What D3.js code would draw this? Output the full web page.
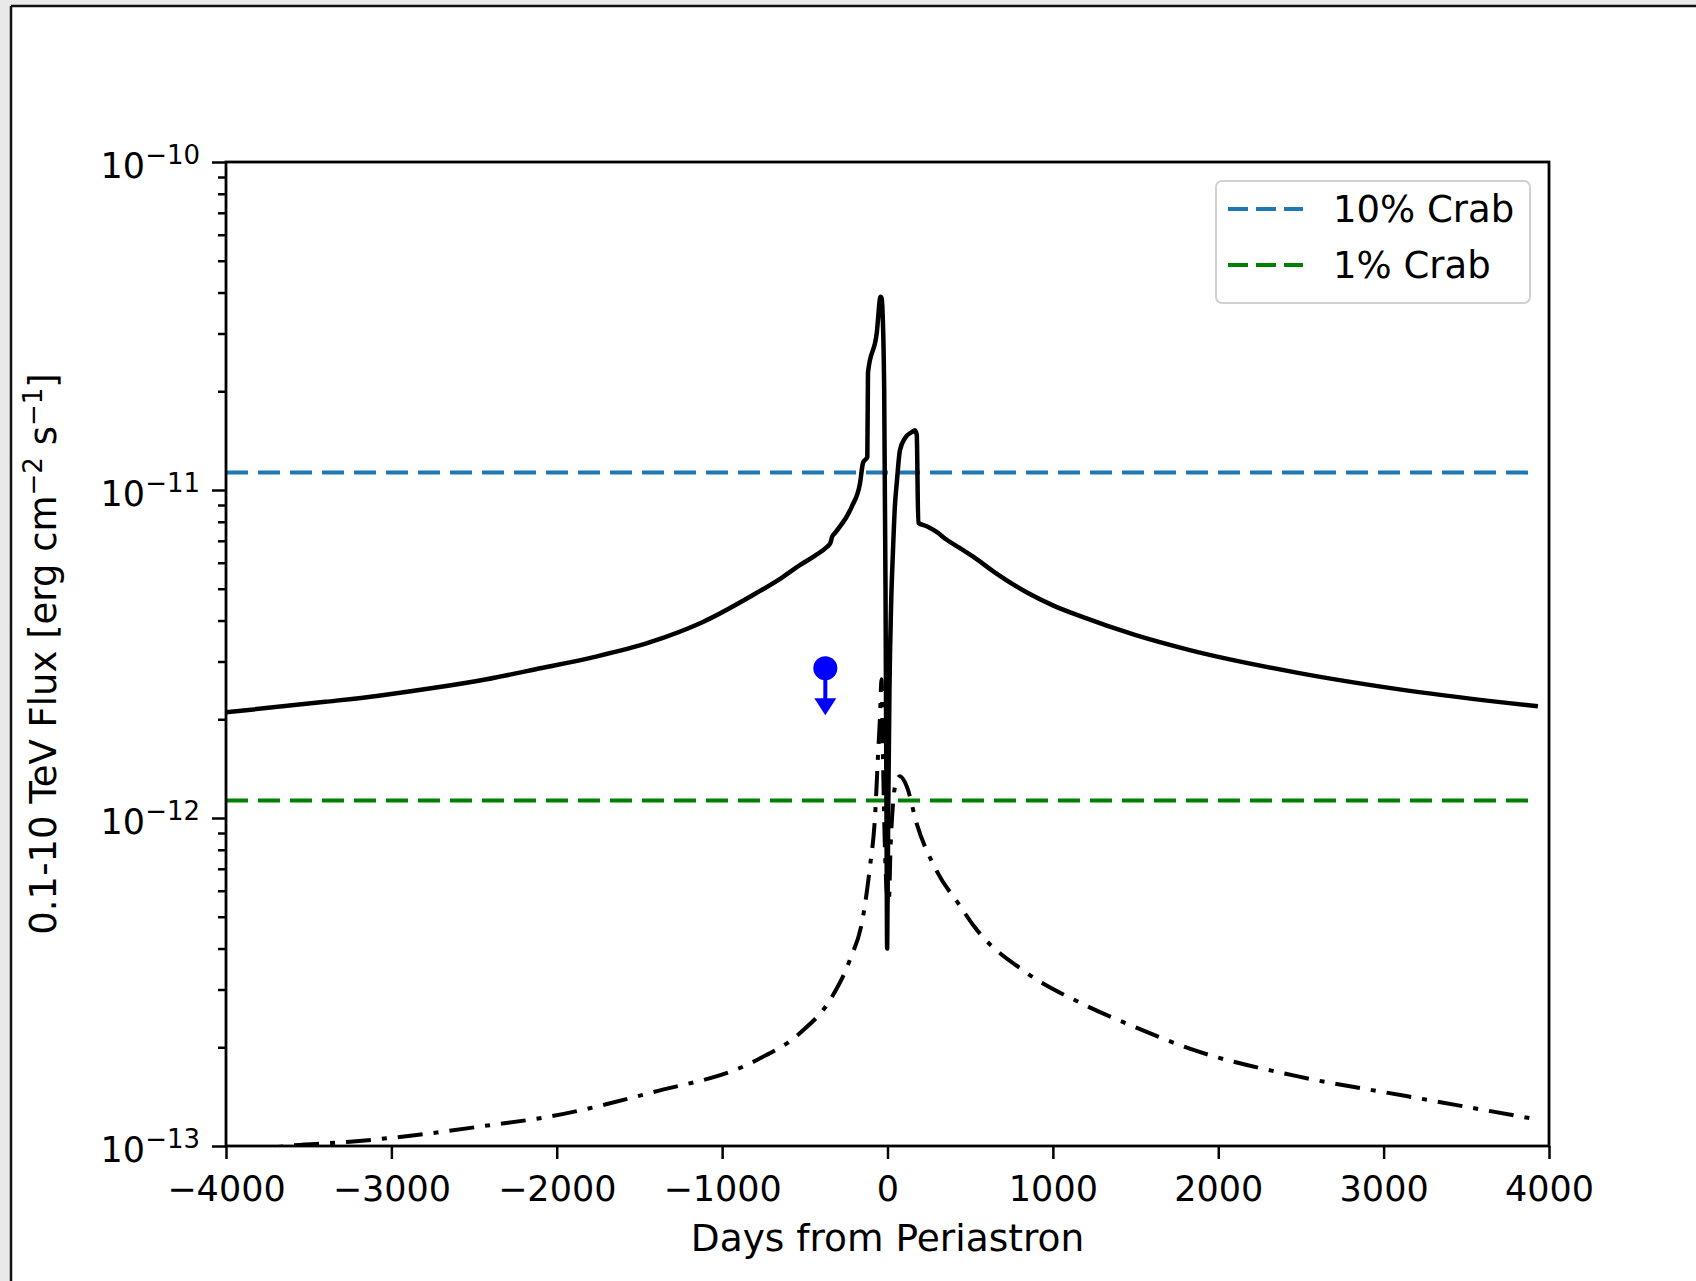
<!DOCTYPE html>
<html>
<head>
<meta charset="utf-8">
<script src="https://cdn.jsdelivr.net/npm/d3@7"></script>
<style>
  html, body { margin: 0; padding: 0; background: #fff; }
  svg { display: block; }
  text { font-family: "DejaVu Sans", sans-serif; fill: #000; }
</style>
</head>
<body>
<svg id="chart" width="1696" height="1281"></svg>
<script>
// Light curve model: 0.1-10 TeV flux vs days from periastron
const modelDays = [-4000, -3400, -3077, -2750, -2424, -2100, -1770, -1440, -1116, -790, -640, -530,
  -440, -367, -345, -335, -317, -216, -166, -148, -122, -118, -65, -42, -36, -30, -20, -12, -6, -2,
  4, 12, 22, 33, 45, 56, 75, 106, 146, 166, 177, 186, 237, 297, 358, 438, 520, 650, 846, 1000, 1174,
  1501, 1828, 2482, 3137, 3933];
const modelFlux = [2.10e-12, 2.26e-12, 2.36e-12, 2.49e-12, 2.65e-12, 2.86e-12, 3.10e-12, 3.43e-12,
  3.96e-12, 4.86e-12, 5.4e-12, 5.9e-12, 6.3e-12, 6.7e-12, 6.9e-12, 7.2e-12, 7.4e-12, 8.9e-12,
  1.05e-11, 1.21e-11, 1.26e-11, 2.28e-11, 3.01e-11, 3.88e-11, 3.85e-11, 3.5e-11, 2.0e-11, 5.0e-12,
  1.0e-12, 4.0e-13, 1.0e-12, 2.5e-12, 4.5e-12, 6.5e-12, 9.0e-12, 1.05e-11, 1.32e-11, 1.44e-11,
  1.50e-11, 1.52e-11, 1.47e-11, 7.95e-12, 7.75e-12, 7.45e-12, 7.05e-12, 6.65e-12, 6.25e-12,
  5.6e-12, 4.86e-12, 4.45e-12, 4.11e-12, 3.61e-12, 3.25e-12, 2.77e-12, 2.45e-12, 2.19e-12];

// Second (dash-dot) component
const lowDays = [-3900, -3633, -3250, -2847, -2444, -2041, -1440, -789, -529, -330, -227, -148,
  -106, -76, -56, -46, -36, -28, -18, -5, 8, 18, 33, 55, 75, 116, 177, 297, 438, 520, 846, 1174,
  1501, 1828, 2482, 3137, 3908];
const lowFlux = [9.6e-14, 1.0e-13, 1.03e-13, 1.08e-13, 1.15e-13, 1.23e-13, 1.45e-13, 1.83e-13,
  2.21e-13, 2.88e-13, 3.7e-13, 5.0e-13, 7.1e-13, 1.0e-12, 1.6e-12, 2.0e-12, 2.65e-12, 1.6e-12,
  9.0e-13, 6.0e-13, 5.5e-13, 8.0e-13, 1.1e-12, 1.3e-12, 1.34e-12, 1.25e-12, 9.6e-13, 6.9e-13,
  5.4e-13, 4.7e-13, 3.36e-13, 2.72e-13, 2.30e-13, 1.98e-13, 1.63e-13, 1.42e-13, 1.21e-13];

// Crab reference levels
const crabLabels = ["10% Crab", "1% Crab"];
const crabFlux = [1.13e-11, 1.13e-12];
const crabColors = ["#1f77b4", "#008000"];
const crabSpan = [-4000, 3910];

// Upper limit
const ulDays = [-376];
const ulFlux = [2.86e-12];

// Axis ticks
const xTicks = [-4000, -3000, -2000, -1000, 0, 1000, 2000, 3000, 4000];
const yMajor = [1e-13, 1e-12, 1e-11, 1e-10];
const yExp = ["−13", "−12", "−11", "−10"];

const svg = d3.select("#chart");
const W = 1696, H = 1281;

// Window frame
svg.append("rect").attr("width", W).attr("height", H).attr("fill", "#e9e9e9");
svg.append("rect").attr("x", 11).attr("y", 6).attr("width", W - 11).attr("height", H - 6).attr("fill", "#fff");
svg.append("line").attr("x1", 11).attr("x2", W).attr("y1", 6).attr("y2", 6).attr("stroke", "#111").attr("stroke-width", 2.5);
svg.append("line").attr("x1", 11).attr("x2", 11).attr("y1", 6).attr("y2", H).attr("stroke", "#111").attr("stroke-width", 2.5);

const L = 226, R = 1549, T = 162, B = 1146;
const x = d3.scaleLinear().domain([-4000, 4000]).range([L, R]);
const y = d3.scaleLog().domain([1e-13, 1e-10]).range([B, T]);

svg.append("defs").append("clipPath").attr("id", "plotclip")
  .append("rect").attr("x", L).attr("y", T).attr("width", R - L).attr("height", B - T);

const plot = svg.append("g").attr("clip-path", "url(#plotclip)");

// Crab levels
crabFlux.forEach((f, i) => {
  plot.append("line")
    .attr("x1", x(crabSpan[0])).attr("x2", x(crabSpan[1]))
    .attr("y1", y(f)).attr("y2", y(f))
    .attr("stroke", crabColors[i]).attr("stroke-width", 4)
    .attr("stroke-dasharray", "22,10");
});

const line = d3.line().x(d => x(d[0])).y(d => y(d[1])).curve(d3.curveMonotoneX);

plot.append("path")
  .datum(lowDays.map((d, i) => [d, lowFlux[i]]))
  .attr("d", line).attr("fill", "none").attr("stroke", "#000")
  .attr("stroke-width", 4).attr("stroke-dasharray", "25,11,5,11");

plot.append("path")
  .datum(modelDays.map((d, i) => [d, modelFlux[i]]))
  .attr("d", line).attr("fill", "none").attr("stroke", "#000")
  .attr("stroke-width", 4.5).attr("stroke-linejoin", "round");

// Upper limit marker with downward arrow
ulDays.forEach((d, i) => {
  const cx = x(d), cy = y(ulFlux[i]);
  const g = svg.append("g").attr("fill", "#0000ff").attr("stroke", "#0000ff");
  g.append("line").attr("x1", cx).attr("x2", cx).attr("y1", cy).attr("y2", cy + 34).attr("stroke-width", 4);
  g.append("path").attr("d", `M${cx - 11},${cy + 30} L${cx + 11},${cy + 30} L${cx},${cy + 47} Z`).attr("stroke", "none");
  g.append("circle").attr("cx", cx).attr("cy", cy).attr("r", 12).attr("stroke", "none");
});

// Axes
const xAxis = svg.append("g").attr("transform", `translate(0,${B})`)
  .call(d3.axisBottom(x).tickValues(xTicks).tickSize(13).tickSizeOuter(0).tickPadding(17)
    .tickFormat(d3.format("d")));
xAxis.selectAll("text").style("font-size", "35px").attr("dy", "0.71em");

const minors = [];
for (let e = -13; e < -10; e++) for (let m = 2; m <= 9; m++) minors.push(m * Math.pow(10, e));
svg.append("g").attr("transform", `translate(${L},0)`)
  .call(d3.axisLeft(y).tickValues(minors).tickSize(8).tickFormat(""));
svg.append("g").attr("transform", `translate(${L},0)`)
  .call(d3.axisLeft(y).tickValues(yMajor).tickSize(14).tickSizeOuter(0).tickFormat(""));

svg.selectAll(".tick line").attr("stroke", "#000").attr("stroke-width", 2.5);
svg.selectAll(".domain").remove();

yMajor.forEach((v, i) => {
  const t = svg.append("text").attr("x", 200).attr("y", y(v) + 16).attr("text-anchor", "end");
  t.append("tspan").style("font-size", "35px").text("10");
  t.append("tspan").style("font-size", "26px").attr("dy", -14).text(yExp[i]);
});

// Spines
svg.append("rect").attr("x", L).attr("y", T).attr("width", R - L).attr("height", B - T)
  .attr("fill", "none").attr("stroke", "#000").attr("stroke-width", 2.8);

// Axis labels
svg.append("text").attr("x", (L + R) / 2).attr("y", 1251).attr("text-anchor", "middle")
  .style("font-size", "37.5px").text("Days from Periastron");

const yl = svg.append("text").attr("transform", `translate(56,${(T + B) / 2}) rotate(-90)`)
  .attr("text-anchor", "middle").style("font-size", "37px");
yl.append("tspan").text("0.1-10 TeV Flux [erg cm");
yl.append("tspan").style("font-size", "26px").attr("dy", -14).text("−2");
yl.append("tspan").attr("dy", 14).text(" s");
yl.append("tspan").style("font-size", "26px").attr("dy", -14).text("−1");
yl.append("tspan").attr("dy", 14).text("]");

// Legend
const lg = svg.append("g");
lg.append("rect").attr("x", 1216).attr("y", 181).attr("width", 314).attr("height", 122).attr("rx", 6)
  .attr("fill", "#fff").attr("fill-opacity", 0.8).attr("stroke", "#d0d0d0").attr("stroke-width", 2);
crabLabels.forEach((lab, i) => {
  const yy = 209 + i * 56;
  lg.append("line").attr("x1", 1228).attr("x2", 1303).attr("y1", yy).attr("y2", yy)
    .attr("stroke", crabColors[i]).attr("stroke-width", 4).attr("stroke-dasharray", "20,8");
  lg.append("text").attr("x", 1333).attr("y", yy + 13).style("font-size", "37px").text(lab);
});
</script>
</body>
</html>
